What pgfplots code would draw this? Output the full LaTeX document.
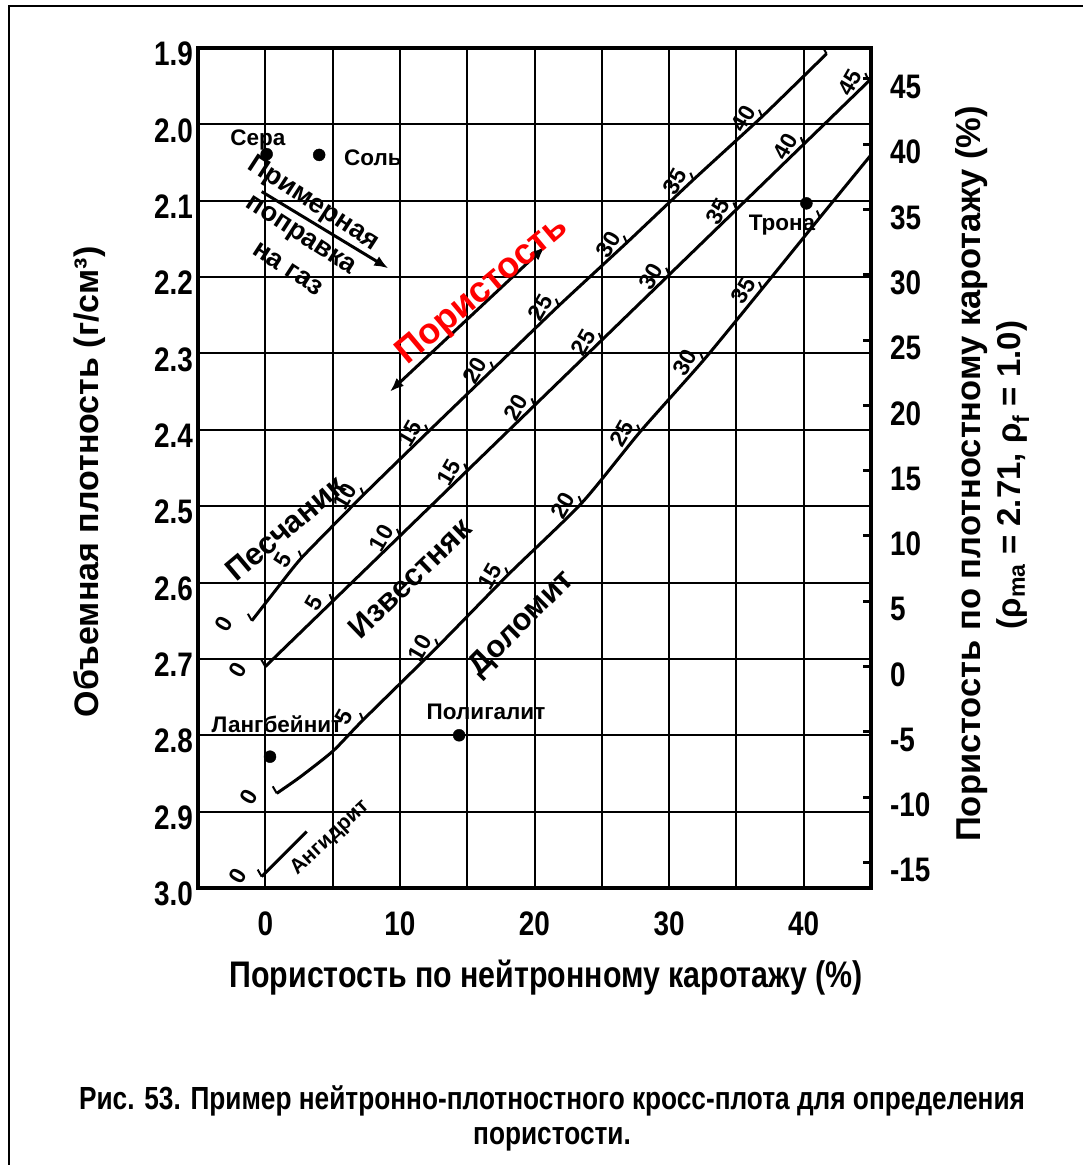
\documentclass[border=0pt]{standalone}
\usepackage{pgfplots}
\pgfplotsset{compat=1.18}
\usepackage{fontspec}
\setmainfont{Liberation Sans}
\newfontfamily\narrowfont{Liberation Sans}[FakeStretch=0.82]
\usetikzlibrary{arrows.meta}

\newcommand{\tickfont}{\narrowfont\bfseries\fontsize{34}{36}\selectfont}
\newcommand{\curvefont}{\bfseries\fontsize{23}{25}\selectfont}
\newcommand{\ptfont}{\bfseries\fontsize{22.5}{25}\selectfont}
\newcommand{\rockfont}{\bfseries\fontsize{31}{34}\selectfont}

% tick on a lithology line: x, density, label
\newcommand{\ctick}[3]{%
  \draw[line width=2pt] (axis cs:#1,#2) -- ++(-3pt,7pt);
  \node[font=\curvefont, rotate=60, inner sep=0pt, xshift=-11pt, yshift=15pt] at (axis cs:#1,#2) {#3};}
\newcommand{\czero}[2]{%
  \draw[line width=2pt] (axis cs:#1,#2) -- ++(-4pt,7pt);
  \node[font=\curvefont, rotate=60, inner sep=0pt, xshift=-17pt, yshift=22pt] at (axis cs:#1,#2) {0};}

\begin{document}
\begin{tikzpicture}
\path[use as bounding box] (0pt,0pt) rectangle (1083pt,-1165pt);
\draw[line width=2pt] (9pt,-1170pt) -- (9pt,-6pt) -- (1090pt,-6pt);

\begin{axis}[
  at={(198pt,-888pt)}, anchor=south west,
  width=673pt, height=840pt, scale only axis,
  xmin=-5, xmax=45, ymin=1.9, ymax=3.0, y dir=reverse,
  xtick={0,10,20,30,40}, xticklabels={0,10,20,30,40},
  minor xtick={5,15,25,35},
  ytick={1.9,2.0,2.1,2.2,2.3,2.4,2.5,2.6,2.7,2.8,2.9,3.0},
  yticklabels={1.9,2.0,2.1,2.2,2.3,2.4,2.5,2.6,2.7,2.8,2.9,3.0},
  grid=both,
  major grid style={black, line width=2pt},
  minor grid style={black, line width=2pt},
  major tick length=0pt, minor tick length=0pt,
  axis line style={line width=4pt},
  tick label style={font=\tickfont, inner sep=0pt},
  xticklabel style={anchor=north, yshift=-24pt},
  yticklabel style={anchor=east, xshift=-5pt, yshift=-6pt},
  clip=false,
]
% Sandstone
\addplot[black, line width=3pt, smooth, tension=0.3] coordinates {
 (-1.0,2.650) (0.9,2.607) (2.7,2.5675) (7.3,2.485) (12.1,2.4025) (16.95,2.320)
 (21.8,2.2375) (26.85,2.155) (31.8,2.0725) (36.9,1.990) (41.7,1.9075)};
% Limestone
\addplot[black, line width=3pt] coordinates {
 (0,2.71) (5,2.6245) (10,2.539) (15,2.4535) (20,2.368) (25,2.2825)
 (30,2.197) (35,2.1115) (40,2.026) (45,1.9405)};
% Dolomite
\addplot[black, line width=3pt, smooth, tension=0.4] coordinates {
 (0.85,2.876) (2.58,2.8547) (5.03,2.8206) (7.26,2.780) (12.85,2.683) (18.05,2.5895)
 (23.5,2.496) (27.85,2.4025) (32.55,2.309) (36.9,2.2155) (41.2,2.122) (45.0,2.040)};
% Anhydrite
\addplot[black, line width=3pt] coordinates {(-0.27,2.985) (3.08,2.926)};
% Minerals
\addplot[only marks, mark=*, mark size=6pt, black] coordinates {
 (0.1,2.039) (4.0,2.040) (40.2,2.1034) (0.35,2.828) (14.4,2.800)};

% ticks: sandstone
\czero{-1.0}{2.650}
\ctick{2.7}{2.5675}{5}
\ctick{7.3}{2.485}{10}
\ctick{12.1}{2.4025}{15}
\ctick{16.95}{2.320}{20}
\ctick{21.8}{2.2375}{25}
\ctick{26.85}{2.155}{30}
\ctick{31.8}{2.0725}{35}
\ctick{36.9}{1.990}{40}
\draw[line width=2pt] (axis cs:41.7,1.9075) -- ++(-4pt,7pt);
% ticks: limestone
\czero{0}{2.71}
\ctick{5}{2.6245}{5}
\ctick{10}{2.539}{10}
\ctick{15}{2.4535}{15}
\ctick{20}{2.368}{20}
\ctick{25}{2.2825}{25}
\ctick{30}{2.197}{30}
\ctick{35}{2.1115}{35}
\ctick{40}{2.026}{40}
\ctick{44.8}{1.942}{45}
% ticks: dolomite
\czero{0.85}{2.876}
\draw[line width=2pt] (axis cs:7.26,2.780) -- ++(-3pt,7pt);
\node[font=\curvefont, rotate=60, inner sep=0pt, xshift=-7pt, yshift=18pt] at (axis cs:7.26,2.780) {5};
\ctick{12.85}{2.683}{10}
\ctick{18.05}{2.5895}{15}
\ctick{23.5}{2.496}{20}
\ctick{27.85}{2.4025}{25}
\ctick{32.55}{2.309}{30}
\ctick{36.9}{2.2155}{35}
\draw[line width=2pt] (axis cs:41.2,2.122) -- ++(-3pt,7pt);
% anhydrite
\draw[line width=2pt] (axis cs:-0.27,2.985) -- ++(-4pt,7pt);
\node[font=\curvefont, rotate=60, inner sep=0pt, xshift=-11pt, yshift=21pt] at (axis cs:-0.27,2.985) {0};

% arrows
\draw[line width=3pt, -{Latex[length=14pt,width=11pt]}] (axis cs:-0.27,2.088) -- (axis cs:9.14,2.1885);
\draw[line width=3pt, {Latex[length=14pt,width=11pt]}-{Latex[length=14pt,width=11pt]}] (axis cs:9.26,2.350) -- (axis cs:20.78,2.160);
\end{axis}

\begin{axis}[
  at={(198pt,-888pt)}, anchor=south west,
  width=673pt, height=840pt, scale only axis,
  xmin=-5, xmax=45, ymin=-16.959, ymax=47.368,
  hide x axis, axis y line*=right,
  ytick={-15,-10,-5,0,5,10,15,20,25,30,35,40,45},
  yticklabels={-15,-10,-5,0,5,10,15,20,25,30,35,40,45},
  tick align=inside, major tick length=8pt,
  tick style={black, line width=3pt},
  axis line style={line width=4pt},
  yticklabel style={font=\tickfont, inner sep=0pt, anchor=west, xshift=19pt, yshift=-8pt},
]
\addplot[draw=none] coordinates {(0,0)};
\end{axis}

% point labels
\node[font=\ptfont] at (258pt,-140pt) {Сера};
\node[font=\ptfont] at (373pt,-158pt) {Соль};
\node[font=\ptfont] at (782pt,-225pt) {Трона};
\node[font=\ptfont] at (277pt,-724pt) {Лангбейнит};
\node[font=\ptfont] at (486pt,-712pt) {Полигалит};
% gas correction
\node[font=\bfseries\fontsize{27}{29}\selectfont, rotate=-33] at (313pt,-204pt) {Примерная};
\node[font=\bfseries\fontsize{27}{29}\selectfont, rotate=-33] at (300pt,-237pt) {поправка};
\node[font=\bfseries\fontsize{27}{29}\selectfont, rotate=-33] at (288pt,-269pt) {на газ};
% porosity
\node[font=\bfseries\fontsize{36}{38}\selectfont, rotate=40, text=red] at (483pt,-291pt) {Пористость};
% rocks
\node[font=\rockfont, rotate=40] at (285pt,-528pt) {Песчаник};
\node[font=\rockfont, rotate=44] at (410pt,-578pt) {Известняк};
\node[font=\rockfont, rotate=45] at (522pt,-624pt) {Доломит};
\node[font=\bfseries\fontsize{21}{23}\selectfont, rotate=43] at (330pt,-838pt) {Ангидрит};

% axis labels
\node[font=\bfseries\fontsize{34}{36}\selectfont, rotate=90] at (90pt,-482pt) {Объемная плотность (г/см³)};
\node[font=\narrowfont\bfseries\fontsize{37}{40}\selectfont] at (546pt,-978pt) {Пористость по нейтронному каротажу (\%)};
\node[font=\bfseries\fontsize{34.5}{36}\selectfont, rotate=90] at (972pt,-474pt) {Пористость по плотностному каротажу (\%)};
\node[font=\bfseries\fontsize{33}{35}\selectfont, rotate=90] at (1013pt,-475pt) {(ρ\textsubscript{ma} = 2.71, ρ\textsubscript{f} = 1.0)};

% caption
\node[font=\narrowfont\bfseries\fontsize{32}{34}\selectfont] at (552pt,-1101pt) {Рис. 53. Пример нейтронно-плотностного кросс-плота для определения};
\node[font=\narrowfont\bfseries\fontsize{32}{34}\selectfont] at (552pt,-1139pt) {пористости.};
\end{tikzpicture}
\end{document}
